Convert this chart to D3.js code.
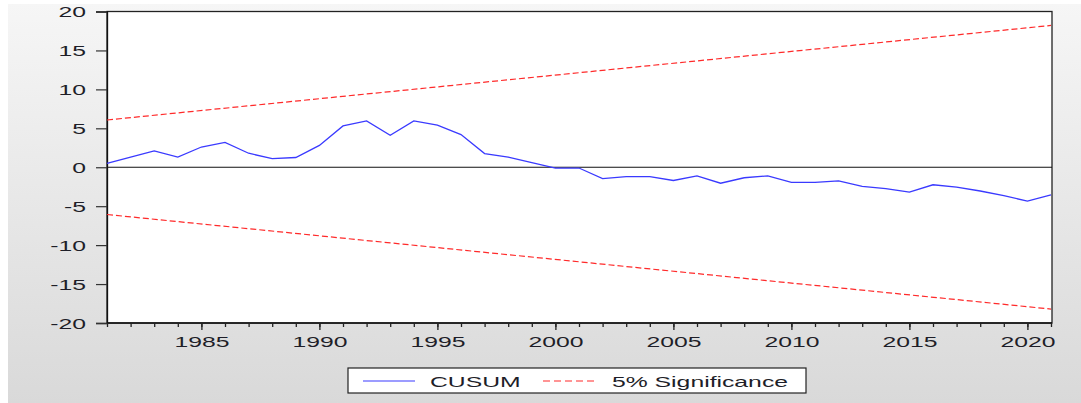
<!DOCTYPE html>
<html>
<head>
<meta charset="utf-8">
<script src="https://cdn.jsdelivr.net/npm/d3@7"></script>
<style>
  html, body { margin: 0; padding: 0; background: #ffffff; }
  svg { display: block; }
  text { font-family: "Liberation Sans", Arial, sans-serif; fill: #1e1e28; }
</style>
</head>
<body>
<svg id="chart" width="1081" height="403"></svg>
<script>
// Recursive residual CUSUM test, 1981-2021
const years = d3.range(1981, 2022);
const cusum = [
  0.5, 1.3, 2.1, 1.3, 2.6, 3.2, 1.8, 1.1, 1.25, 2.8,
  5.3, 5.95, 4.1, 5.95, 5.4, 4.2, 1.75, 1.3, 0.6, -0.1,
  -0.1, -1.45, -1.2, -1.2, -1.7, -1.1, -2.05, -1.35, -1.1, -1.95,
  -1.95, -1.75, -2.45, -2.75, -3.2, -2.25, -2.55, -3.05, -3.65, -4.35,
  -3.55
];
// 5% significance bounds (straight lines between the end points)
const boundYears = [1981, 2021];
const upperBound = [6.07, 18.21];
const lowerBound = [-6.07, -18.21];

const yTicks = [20, 15, 10, 5, 0, -5, -10, -15, -20];
const xTickMajor = [1985, 1990, 1995, 2000, 2005, 2010, 2015, 2020];
const legendLabels = ["CUSUM", "5% Significance"];

const svg = d3.select("#chart");
const plot = { left: 107, right: 1051, top: 11.5, bottom: 323 };
const SX = 1.65; // horizontal stretch of the lettering

// grey panel background
const defs = svg.append("defs");
const grad = defs.append("linearGradient").attr("id", "bg")
  .attr("x1", 0).attr("y1", 0).attr("x2", 0).attr("y2", 1);
grad.append("stop").attr("offset", "0%").attr("stop-color", "#f6f6f6");
grad.append("stop").attr("offset", "100%").attr("stop-color", "#d9d9d9");
svg.append("rect").attr("x", 8).attr("y", 4).attr("width", 1073).attr("height", 399)
  .attr("fill", "url(#bg)");

const x = d3.scaleLinear().domain([1981, 2021]).range([plot.left, plot.right]);
const y = d3.scaleLinear().domain([-20, 20]).range([plot.bottom, plot.top]);

// plot area
svg.append("rect")
  .attr("x", plot.left).attr("y", plot.top)
  .attr("width", plot.right - plot.left + 1).attr("height", plot.bottom - plot.top)
  .attr("fill", "#ffffff").attr("stroke", "#222").attr("stroke-width", 1.3);

// zero line
svg.append("line")
  .attr("x1", plot.left).attr("x2", plot.right + 1)
  .attr("y1", y(0)).attr("y2", y(0))
  .attr("stroke", "#111").attr("stroke-width", 1.2);

// y axis
const yAxis = d3.axisLeft(y).tickValues(yTicks).tickSize(11).tickPadding(9)
  .tickFormat(d => String(d).replace("\u2212", "-"));
const gy = svg.append("g").attr("transform", `translate(${plot.left},0)`).call(yAxis);
gy.select(".domain").attr("stroke", "#111").attr("stroke-width", 1.3);
gy.selectAll(".tick line").attr("stroke", "#333").attr("stroke-width", 1.2);
gy.selectAll(".tick text")
  .attr("font-size", 15).attr("x", null).attr("dy", "0.36em")
  .attr("transform", `translate(-21,0) scale(${SX},1)`)
  .attr("text-anchor", "end")
  .style("fill", "#1e1e28");

// x axis: minor ticks every year, longer ticks with labels every five years
const gx = svg.append("g").attr("transform", `translate(0,${plot.bottom})`);
gx.append("line").attr("x1", plot.left).attr("x2", plot.right + 1)
  .attr("stroke", "#111").attr("stroke-width", 1.3);
const xAxisMinor = d3.axisBottom(x).tickValues(years).tickSize(4).tickFormat("");
const gxm = gx.append("g").call(xAxisMinor);
gxm.select(".domain").remove();
gxm.selectAll(".tick line").attr("stroke", "#222").attr("stroke-width", 1.3);
const xAxisMajor = d3.axisBottom(x).tickValues(xTickMajor).tickSize(7).tickPadding(8)
  .tickFormat(d3.format("d"));
const gxM = gx.append("g").call(xAxisMajor);
gxM.select(".domain").remove();
gxM.selectAll(".tick line").attr("stroke", "#222").attr("stroke-width", 1.3);
gxM.selectAll(".tick text")
  .attr("font-size", 15).attr("y", null).attr("dy", "0.36em")
  .attr("transform", `translate(0,19) scale(${SX},1)`)
  .style("fill", "#1e1e28");

// bound lines
const bLine = (vals) => d3.line().x((d, i) => x(boundYears[i])).y(d => y(d))(vals);
[upperBound, lowerBound].forEach(b => {
  svg.append("path").attr("d", bLine(b))
    .attr("fill", "none").attr("stroke", "#ff2a2a").attr("stroke-width", 1.2)
    .attr("stroke-dasharray", "6,3");
});

// CUSUM line
const line = d3.line().x((d, i) => x(years[i])).y(d => y(d));
svg.append("path").attr("d", line(cusum))
  .attr("fill", "none").attr("stroke", "#3a3aff").attr("stroke-width", 1.3);

// legend
const lg = svg.append("g");
lg.append("rect").attr("x", 348).attr("y", 368).attr("width", 458).attr("height", 25)
  .attr("fill", "#ffffff").attr("stroke", "#222").attr("stroke-width", 1.2);
lg.append("line").attr("x1", 363).attr("x2", 415).attr("y1", 381).attr("y2", 381)
  .attr("stroke", "#3a3aff").attr("stroke-width", 1.2);
lg.append("text").text(legendLabels[0]).attr("font-size", 15)
  .attr("transform", `translate(430,386.5) scale(${SX},1)`);
lg.append("line").attr("x1", 543).attr("x2", 597).attr("y1", 381).attr("y2", 381)
  .attr("stroke", "#ff2a2a").attr("stroke-width", 1.2).attr("stroke-dasharray", "7,4");
lg.append("text").text(legendLabels[1]).attr("font-size", 15)
  .attr("transform", `translate(612,386.5) scale(${SX},1)`);
</script>
</body>
</html>
